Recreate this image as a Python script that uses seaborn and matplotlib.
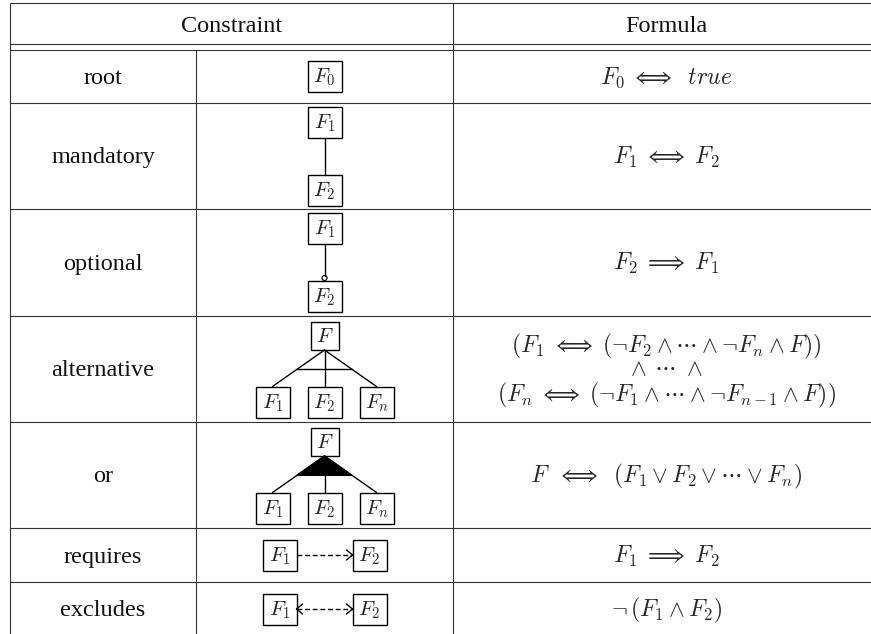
import matplotlib.pyplot as plt
from matplotlib.patches import Rectangle, Polygon, Circle
import seaborn as sns

# table content
headers = ['Constraint', 'Formula']
constraints = ['root', 'mandatory', 'optional', 'alternative', 'or', 'requires', 'excludes']
formulas = [
    [r'$F_0\;\Longleftrightarrow\;\;\mathit{true}$'],
    [r'$F_1\;\Longleftrightarrow\;F_2$'],
    [r'$F_2\;\Longrightarrow\;F_1$'],
    [r'$(F_1\;\Longleftrightarrow\;(\neg F_2\wedge\cdots\wedge\neg F_n\wedge F))$',
     r'${\wedge}\;\,{\cdots}\;\,{\wedge}$',
     r'$(F_n\;\Longleftrightarrow\;(\neg F_1\wedge\cdots\wedge\neg F_{n-1}\wedge F))$'],
    [r'$F\;\;\Longleftrightarrow\;\;(F_1\vee F_2\vee\cdots\vee F_n)$'],
    [r'$F_1\;\Longrightarrow\;F_2$'],
    [r'$\neg\,(F_1\wedge F_2)$'],
]
child_labels = [r'$F_1$', r'$F_2$', r'$F_n$']

# layout (pixels)
row_heights = [53, 106, 107, 106, 106, 54, 54]
col_x = [10, 196, 453, 880]
top, head_bot, gap = 3, 44, 6

sns.set_theme(style='white')
plt.rcParams['font.family'] = ['Liberation Serif', 'DejaVu Serif']
plt.rcParams['mathtext.fontset'] = 'cm'

fig = plt.figure(figsize=(8.71, 6.34), dpi=100)
ax = fig.add_axes([0, 0, 1, 1])
ax.set_xlim(0, 871)
ax.set_ylim(634, 0)
ax.axis('off')

LC = '#333333'
LW = 0.8
TXT = 17.5
row_y = [head_bot + gap]
for h in row_heights:
    row_y.append(row_y[-1] + h)
bottom = row_y[-1]

# grid
ax.hlines([top, head_bot] + row_y[:-1], col_x[0], col_x[-1], color=LC, lw=LW)
ax.vlines([col_x[0], col_x[2], col_x[3]], top, bottom, color=LC, lw=LW)
ax.vlines(col_x[1], row_y[0], bottom, color=LC, lw=LW)

ax.text((col_x[0] + col_x[2]) / 2, (top + head_bot) / 2 + 3, headers[0],
        ha='center', va='center', fontsize=TXT, color='#111111')
ax.text((col_x[2] + col_x[3]) / 2, (top + head_bot) / 2 + 3, headers[1],
        ha='center', va='center', fontsize=TXT, color='#111111')

def box(x, y, label, w=34, h=31):
    ax.add_patch(Rectangle((x - w / 2, y - h / 2), w, h, fill=False, ec='black', lw=1.0))
    ax.text(x, y + 1, label, ha='center', va='center', fontsize=15)

def line(x0, y0, x1, y1, **kw):
    ax.plot([x0, x1], [y0, y1], color='black', lw=kw.pop('lw', 1.0), **kw)

def chevron(x, y, d):
    line(x, y, x - d * 6, y - 5)
    line(x, y, x - d * 6, y + 5)

def tree(cx, cy, kind):
    py, ch_y = cy - 33, cy + 33
    box(cx, py, r'$F$', w=28, h=28)
    kids = [cx - 52, cx, cx + 52]
    for kx, lab in zip(kids, child_labels):
        line(cx, py + 14, kx, ch_y - 15.5)
        box(kx, ch_y, lab)
    t = 0.53
    yl = py + 14 + t * (ch_y - 15.5 - py - 14)
    xl, xr = cx - 52 * t, cx + 52 * t
    if kind == 'alt':
        line(xl, yl, xr, yl)
    else:
        ax.add_patch(Polygon([(cx, py + 14), (xl, yl), (xr, yl)], color='black'))

cx_d = (col_x[1] + col_x[2]) / 2
cx_f = (col_x[2] + col_x[3]) / 2
for i, name in enumerate(constraints):
    cy = (row_y[i] + row_y[i + 1]) / 2
    if cy > 634:
        cy = row_y[i] + 27
    ax.text((col_x[0] + col_x[1]) / 2, cy + 2, name, ha='center', va='center',
            fontsize=TXT, color='#111111')
    lines = formulas[i]
    offs = [-23, 1, 26] if len(lines) == 3 else [1]
    for off, f in zip(offs, lines):
        ax.text(cx_f, cy + off, f, ha='center', va='center', fontsize=17)

    if name == 'root':
        box(cx_d, cy, r'$F_0$')
    elif name in ('mandatory', 'optional'):
        box(cx_d, cy - 34, r'$F_1$')
        box(cx_d, cy + 34, r'$F_2$')
        if name == 'mandatory':
            line(cx_d, cy - 18.5, cx_d, cy + 18.5)
        else:
            line(cx_d, cy - 18.5, cx_d, cy + 13)
            ax.add_patch(Circle((cx_d, cy + 15.5), 2.5, fill=False, ec='black', lw=0.9))
    elif name == 'alternative':
        tree(cx_d, cy, 'alt')
    elif name == 'or':
        tree(cx_d, cy, 'or')
    else:
        x1, x2 = cx_d - 45, cx_d + 45
        box(x1, cy, r'$F_1$')
        box(x2, cy, r'$F_2$')
        line(x1 + 17, cy, x2 - 17, cy, linestyle=(0, (3.5, 2)))
        chevron(x2 - 17, cy, 1)
        if name == 'excludes':
            chevron(x1 + 17, cy, -1)

fig.savefig('out.png', dpi=100)
